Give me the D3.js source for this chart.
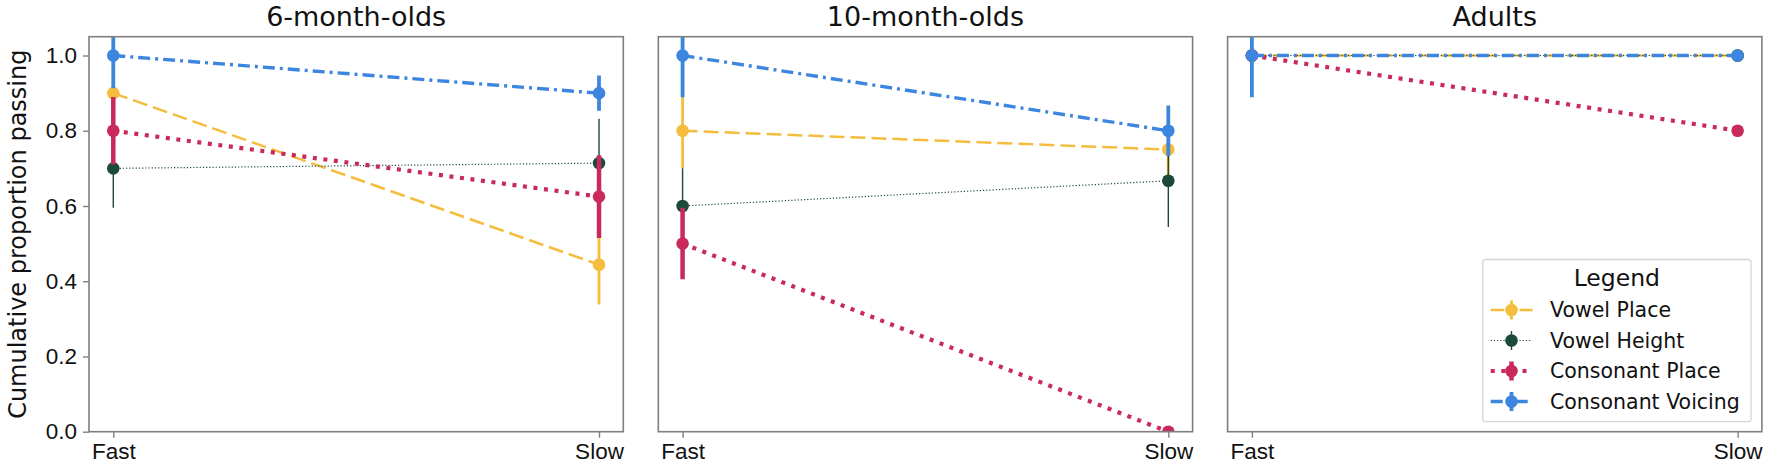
<!DOCTYPE html>
<html lang="en">
<head>
<meta charset="utf-8">
<title>Cumulative proportion passing</title>
<script src="https://cdn.jsdelivr.net/npm/d3@7/dist/d3.min.js"></script>
<style>
  body { margin: 0; background: #fff; }
  svg { display: block; font-family: "DejaVu Sans", sans-serif; }
  .frame { fill: none; stroke: #7f7f7f; stroke-width: 1.6; }
  .tick line { stroke: #7f7f7f; stroke-width: 1.4; }
  .tick text { fill: #111; font-size: 22.5px; }
</style>
</head>
<body>
<svg id="chart" width="1772" height="472"></svg>
<script>
// panels and x categories
var panels = ['6-month-olds', '10-month-olds', 'Adults'];
var speeds = ['Fast', 'Slow'];
var seriesNames = ['Vowel Place', 'Vowel Height', 'Consonant Place', 'Consonant Voicing'];
var yTicks = [0.0, 0.2, 0.4, 0.6, 0.8, 1.0];

// values per panel: [Fast, Slow]
var vowelPlace       = [[0.9, 0.444], [0.8, 0.75], [1.0, 1.0]];
var vowelPlaceErr    = [[0.1, 0.106], [0.1, 0.07], [0, 0]];
var vowelHeight      = [[0.7, 0.714], [0.6, 0.667], [1.0, 1.0]];
var vowelHeightErr   = [[0.105, 0.118], [0.1, 0.123], [0, 0]];
var consPlace        = [[0.8, 0.625], [0.5, 0.0], [1.0, 0.8]];
var consPlaceErr     = [[0.09, 0.11], [0.095, 0], [0, 0]];
var consVoicing      = [[1.0, 0.9], [1.0, 0.8], [1.0, 1.0]];
var consVoicingErr   = [[0.087, 0.047], [0.111, 0.067], [0.111, 0]];

var values = [vowelPlace, vowelHeight, consPlace, consVoicing];
var errors = [vowelPlaceErr, vowelHeightErr, consPlaceErr, consVoicingErr];

// styles
var colors = ['#f5bd3d', '#1c4a3a', '#c92a5b', '#3d86df'];
var widths = [2.5, 1.2, 4.2, 3.4];
var errWidths = [2.8, 1.4, 4.5, 3.8];
var dashes = ['15,6', '1.2,2', '4,6.6', '12,5,3,5'];
var legendOffsets = [0, 0, 0, 0];

var svg = d3.select('#chart');
var plotTop = 36.7, plotBottom = 431.7;
var panelW = 534.3, panelStep = 569.3, left0 = 89;

var y = d3.scaleLinear().domain([0, 1.05]).range([plotBottom, plotTop]);

panels.forEach(function(name, p) {
    var x0 = left0 + p * panelStep;
    var x = d3.scalePoint().domain(speeds).range([x0, x0 + panelW]).padding(0.05);
    var g = svg.append('g');

    g.append('clipPath').attr('id', 'clip' + p)
      .append('rect')
        .attr('x', x0).attr('y', plotTop)
        .attr('width', panelW).attr('height', plotBottom - plotTop);

    var plot = g.append('g').attr('clip-path', 'url(#clip' + p + ')');

    for (var s = 0; s < seriesNames.length; s++) {
        var vals = values[s][p];
        var errs = errors[s][p];
        var pts = speeds.map(function(sp, i) { return {x: sp, v: vals[i], e: errs[i]}; });

        plot.selectAll('.err' + s)
            .data(pts.filter(function(d) { return d.e > 0; }))
            .enter().append('line')
              .attr('x1', function(d) { return x(d.x); })
              .attr('x2', function(d) { return x(d.x); })
              .attr('y1', function(d) { return y(d.v - d.e); })
              .attr('y2', function(d) { return y(d.v + d.e); })
              .attr('stroke', colors[s])
              .attr('stroke-width', errWidths[s]);

        var line = d3.line()
            .x(function(d) { return x(d.x); })
            .y(function(d) { return y(d.v); });

        plot.append('path')
            .datum(pts)
            .attr('d', line)
            .attr('fill', 'none')
            .attr('stroke', colors[s])
            .attr('stroke-width', widths[s])
            .attr('stroke-dasharray', dashes[s]);

        plot.selectAll('.dot' + s)
            .data(pts)
            .enter().append('circle')
              .attr('cx', function(d) { return x(d.x); })
              .attr('cy', function(d) { return y(d.v); })
              .attr('r', 6.3)
              .attr('fill', colors[s]);
    }

    g.append('rect').attr('class', 'frame')
        .attr('x', x0).attr('y', plotTop)
        .attr('width', panelW).attr('height', plotBottom - plotTop);

    var xAxis = g.append('g')
        .attr('transform', 'translate(0,' + plotBottom + ')')
        .call(d3.axisBottom(x).tickSize(6).tickPadding(5));
    xAxis.select('.domain').remove();

    if (p == 0) {
        var yAxis = g.append('g')
            .attr('transform', 'translate(' + x0 + ',0)')
            .call(d3.axisLeft(y).tickValues(yTicks).tickFormat(d3.format('.1f')).tickSize(6).tickPadding(6));
        yAxis.select('.domain').remove();
    }

    g.append('text')
        .attr('x', x0 + panelW / 2)
        .attr('y', 26)
        .attr('text-anchor', 'middle')
        .attr('font-size', 27)
        .attr('fill', '#111')
        .text(name);
});

svg.append('text')
    .attr('transform', 'translate(26,' + ((plotTop + plotBottom) / 2) + ') rotate(-90)')
    .attr('text-anchor', 'middle')
    .attr('font-size', 24)
    .attr('fill', '#111')
    .text('Cumulative proportion passing');

// legend
var lg = svg.append('g');
var lx = 1482.7, ly = 259.5, lw = 268.3, lh = 162.2;
lg.append('rect')
    .attr('x', lx).attr('y', ly).attr('width', lw).attr('height', lh)
    .attr('rx', 3)
    .attr('fill', 'rgba(255,255,255,0.8)')
    .attr('stroke', '#d6d6d6')
    .attr('stroke-width', 1.3);
lg.append('text')
    .attr('x', lx + lw / 2).attr('y', 286)
    .attr('text-anchor', 'middle')
    .attr('font-size', 23.5)
    .attr('fill', '#111')
    .text('Legend');

seriesNames.forEach(function(name, s) {
    var ry = 310 + s * 30.5;
    var row = lg.append('g');
    row.append('line')
        .attr('x1', 1490.7).attr('x2', 1532.3)
        .attr('y1', ry).attr('y2', ry)
        .attr('stroke', colors[s])
        .attr('stroke-width', widths[s])
        .attr('stroke-dasharray', s == 0 ? '13.5,27' : dashes[s])
        .attr('stroke-dashoffset', legendOffsets[s]);
    if (s == 0) {
        row.append('line')
            .attr('x1', 1519.5).attr('x2', 1532.3)
            .attr('y1', ry).attr('y2', ry)
            .attr('stroke', colors[s])
            .attr('stroke-width', widths[s]);
    }
    row.append('line')
        .attr('x1', 1511.5).attr('x2', 1511.5)
        .attr('y1', ry - 9.5).attr('y2', ry + 9.5)
        .attr('stroke', colors[s])
        .attr('stroke-width', errWidths[s]);
    row.append('circle')
        .attr('cx', 1511.5).attr('cy', ry).attr('r', 6.3)
        .attr('fill', colors[s]);
    row.append('text')
        .attr('x', 1550).attr('y', ry)
        .attr('dy', '0.35em')
        .attr('font-size', 20.5)
        .attr('fill', '#111')
        .text(name);
});
</script>
</body>
</html>
